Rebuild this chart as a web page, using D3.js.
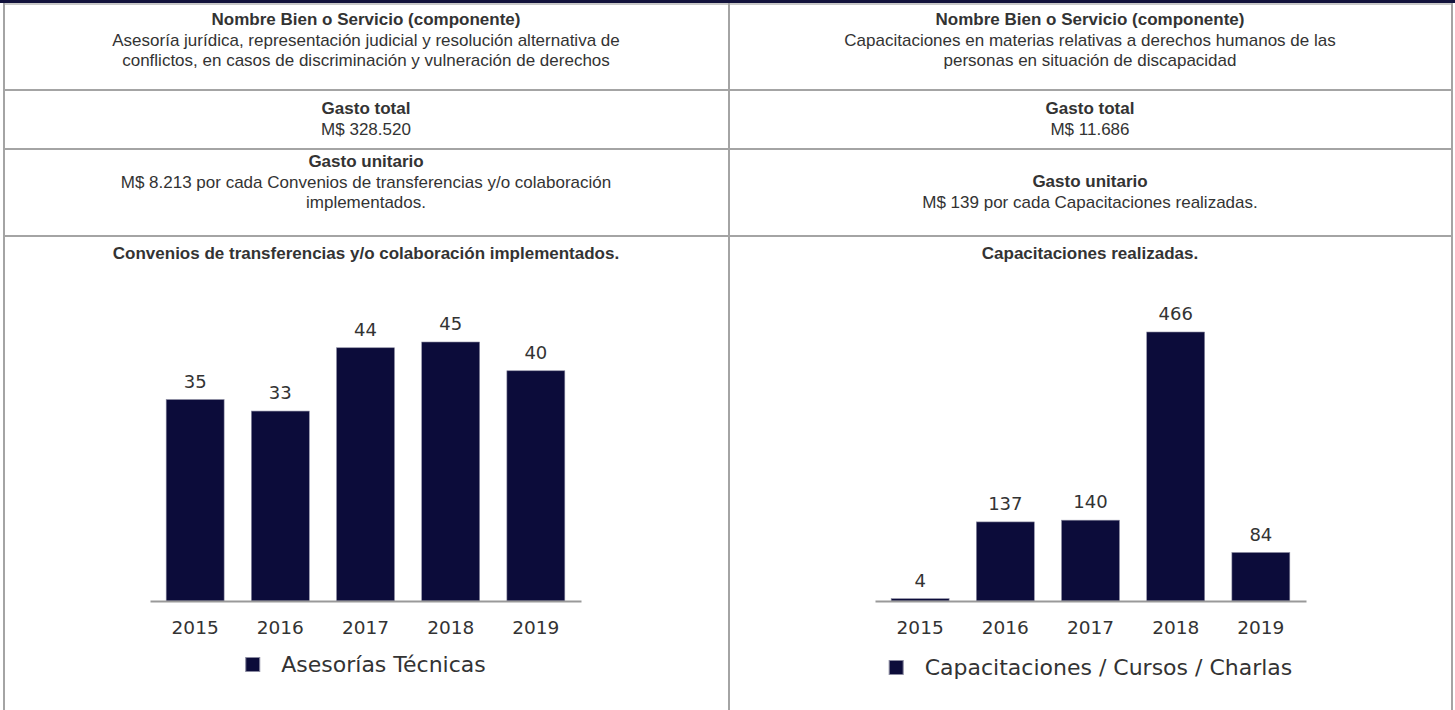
<!DOCTYPE html>
<html>
<head>
<meta charset="UTF-8">
<script src="https://cdnjs.cloudflare.com/ajax/libs/d3/7.8.5/d3.min.js"></script>
<style>
  body { margin: 0; background: #fff; }
  svg { display: block; }
  .cell text { font-family: "Liberation Sans", Arial, sans-serif; font-size: 17px; fill: #333; }
  .chart text { font-family: "DejaVu Sans", Verdana, sans-serif; fill: #333; }
</style>
</head>
<body>
<svg id="page" width="1455" height="710"></svg>
<script>
// ---- data ----
const years = ["2015", "2016", "2017", "2018", "2019"];
const conveniosValues = [35, 33, 44, 45, 40];
const capacitacionesValues = [4, 137, 140, 466, 84];
const seriesNames = ["Asesorías Técnicas", "Capacitaciones / Cursos / Charlas"];
const chartTitles = ["Convenios de transferencias y/o colaboración implementados.", "Capacitaciones realizadas."];

const nombreLeft = ["Asesoría jurídica, representación judicial y resolución alternativa de",
                    "conflictos, en casos de discriminación y vulneración de derechos"];
const nombreRight = ["Capacitaciones en materias relativas a derechos humanos de las",
                     "personas en situación de discapacidad"];
const gastoTotal = ["M$ 328.520", "M$ 11.686"];
const unitLeft = ["M$ 8.213 por cada Convenios de transferencias y/o colaboración", "implementados."];
const unitRight = ["M$ 139 por cada Capacitaciones realizadas."];

const navy = "#0c0c3a";
const lineColor = "#a4a4a4";

const svg = d3.select("#page");

// top bar + table grid
svg.append("rect").attr("x", 0).attr("y", 0).attr("width", 1455).attr("height", 3).attr("fill", "#12123c");
const grid = svg.append("g").attr("stroke", lineColor).attr("stroke-width", 2).attr("fill", "none");
grid.append("line").attr("x1", 3).attr("x2", 1453).attr("y1", 4).attr("y2", 4).attr("stroke", "#c8c8c8");
[90, 149, 236].forEach(y => grid.append("line").attr("x1", 3).attr("x2", 1453).attr("y1", y).attr("y2", y));
[4, 729, 1452].forEach(x => grid.append("line").attr("x1", x).attr("x2", x).attr("y1", 3).attr("y2", 710));

const colCenter = [366, 1090];

function cellLines(cx, firstBaseline, lines, bold) {
  const g = svg.append("g").attr("class", "cell");
  g.selectAll("text").data(lines).join("text")
    .attr("x", cx)
    .attr("y", (d, i) => firstBaseline + i * 20.5)
    .attr("text-anchor", "middle")
    .attr("font-weight", (d, i) => bold[i] ? "bold" : "normal")
    .attr("font-size", (d, i) => bold[i] === 2 ? 18 : 17)
    .text(d => d);
}

// row 1
cellLines(colCenter[0], 25, ["Nombre Bien o Servicio (componente)"].concat(nombreLeft), [2, 0, 0]);
cellLines(colCenter[1], 25, ["Nombre Bien o Servicio (componente)"].concat(nombreRight), [2, 0, 0]);
// row 2
cellLines(colCenter[0], 114, ["Gasto total", gastoTotal[0]], [2, 0]);
cellLines(colCenter[1], 114, ["Gasto total", gastoTotal[1]], [2, 0]);
// row 3
cellLines(colCenter[0], 167, ["Gasto unitario"].concat(unitLeft), [2, 0, 0]);
cellLines(colCenter[1], 187, ["Gasto unitario"].concat(unitRight), [2, 0]);
// row 4 titles
cellLines(colCenter[0], 259, [chartTitles[0]], [1]);
cellLines(colCenter[1], 259, [chartTitles[1]], [1]);

// ---- bar charts ----
function barChart(values, x0, x1, topY, name, legendY) {
  const base = 601;
  const g = svg.append("g").attr("class", "chart");
  const x = d3.scaleBand().domain(years).range([x0, x1]).paddingInner(0.32).paddingOuter(0.19);
  const y = d3.scaleLinear().domain([0, d3.max(values)]).range([base, topY]);
  const data = years.map((yr, i) => ({ yr, v: values[i] }));

  g.selectAll("rect.bar").data(data).join("rect")
    .attr("class", "bar")
    .attr("x", d => x(d.yr))
    .attr("width", x.bandwidth())
    .attr("y", d => y(d.v))
    .attr("height", d => base - y(d.v))
    .attr("fill", navy)
    .attr("stroke", "#8a8aa0")
    .attr("stroke-width", 0.6);

  g.selectAll("text.val").data(data).join("text")
    .attr("class", "val")
    .attr("x", d => x(d.yr) + x.bandwidth() / 2)
    .attr("y", d => y(d.v) - 12)
    .attr("text-anchor", "middle")
    .attr("font-size", 18)
    .text(d => d.v);

  const ax = g.append("g").attr("transform", `translate(0,${base})`)
    .call(d3.axisBottom(x).tickSize(0).tickPadding(20));
  ax.select(".domain").attr("stroke", "#999").attr("stroke-width", 2);
  ax.selectAll("text").attr("font-size", 18.5).attr("fill", "#333")
    .attr("font-family", "DejaVu Sans, Verdana, sans-serif");

  // legend
  const lg = g.append("g");
  lg.append("rect").attr("x", 0.5).attr("y", -14.5).attr("width", 14).attr("height", 14)
    .attr("fill", navy).attr("stroke", "#8a8aa0").attr("stroke-width", 1);
  const t = lg.append("text").attr("x", 36).attr("y", 0).attr("font-size", 22).text(name);
  const w = 36 + t.node().getComputedTextLength();
  lg.attr("transform", `translate(${(x0 + x1) / 2 - w / 2},${legendY})`);
}

barChart(conveniosValues, 150, 581, 342, seriesNames[0], 672);
barChart(capacitacionesValues, 875, 1306, 332, seriesNames[1], 675);
</script>
</body>
</html>
